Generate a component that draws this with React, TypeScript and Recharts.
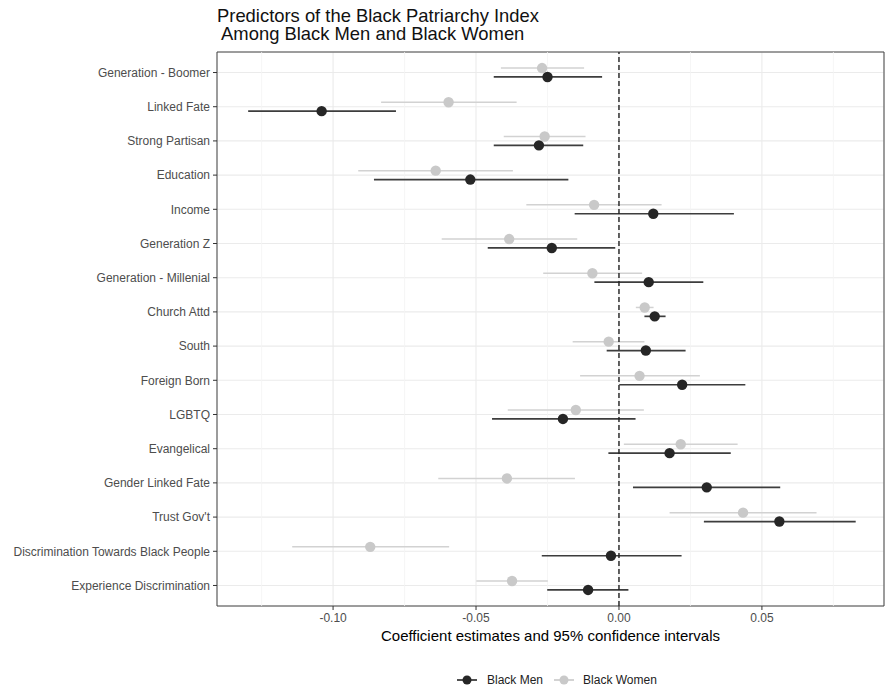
import {
  ScatterChart,
  Scatter,
  XAxis,
  YAxis,
  CartesianGrid,
  ReferenceLine,
  ReferenceArea,
  ErrorBar,
  Label,
} from "recharts";

const categories = [
  "Generation - Boomer",
  "Linked Fate",
  "Strong Partisan",
  "Education",
  "Income",
  "Generation Z",
  "Generation - Millenial",
  "Church Attd",
  "South",
  "Foreign Born",
  "LGBTQ",
  "Evangelical",
  "Gender Linked Fate",
  "Trust Gov't",
  "Discrimination Towards Black People",
  "Experience Discrimination",
];

const menEst = [-0.025, -0.104, -0.028, -0.052, 0.012, -0.0235, 0.0104, 0.0125, 0.0094, 0.0221, -0.0196, 0.0177, 0.0307, 0.0561, -0.0028, -0.0108];
const menLow = [-0.0438, -0.1297, -0.0438, -0.0857, -0.0155, -0.0459, -0.0086, 0.0089, -0.0043, 0.0001, -0.0444, -0.0037, 0.0049, 0.0297, -0.027, -0.0251];
const menHigh = [-0.0059, -0.078, -0.0125, -0.0177, 0.0402, -0.0013, 0.0295, 0.0163, 0.0233, 0.0442, 0.0058, 0.0391, 0.0564, 0.0828, 0.0219, 0.0033];

const womenEst = [-0.0269, -0.0596, -0.026, -0.0641, -0.0087, -0.0384, -0.0093, 0.009, -0.0036, 0.0072, -0.0151, 0.0216, -0.0392, 0.0434, -0.087, -0.0374];
const womenLow = [-0.0413, -0.0832, -0.0403, -0.0912, -0.0324, -0.062, -0.0265, 0.0059, -0.0162, -0.0136, -0.0389, 0.0017, -0.0632, 0.0177, -0.1143, -0.0499];
const womenHigh = [-0.0122, -0.0358, -0.0117, -0.0371, 0.0149, -0.0146, 0.0081, 0.0121, 0.0089, 0.0283, 0.0087, 0.0415, -0.0154, 0.0691, -0.0594, -0.0249];

const xTicks = [-0.1, -0.05, 0, 0.05];
const xMinorTicks = [-0.125, -0.075, -0.025, 0.025, 0.075];
const xDomain = [-0.1406, 0.0927];
const yDomain = [-0.6, categories.length - 0.4];

const MEN = "#262626";
const MEN_LINE = "#3d3d3d";
const WOMEN = "#c9c9c9";
const WOMEN_LINE = "#d2d2d2";

// small vertical dodge between the two groups
const DODGE = 0.13;

const buildRows = (est: number[], low: number[], high: number[], shift: number) =>
  categories.map((name, i) => ({
    name,
    x: est[i],
    y: i + shift,
    err: [est[i] - low[i], high[i] - est[i]],
  }));

const menData = buildRows(menEst, menLow, menHigh, DODGE);
const womenData = buildRows(womenEst, womenLow, womenHigh, -DODGE);

const dot = (fill: string) => (props: any) =>
  <circle cx={props.cx} cy={props.cy} r={5.2} fill={fill} />;

// plain text tick so long labels don't wrap
const CategoryTick = (props: any) => (
  <text
    x={props.x}
    y={props.y}
    dy="0.355em"
    textAnchor="end"
    fontSize={12}
    fill="#4d4d4d"
  >
    {categories[props.payload.value]}
  </text>
);

const LegendIcon = ({ line, fill }: { line: string; fill: string }) => (
  <svg width={20} height={12}>
    <line x1={0} y1={6} x2={20} y2={6} stroke={line} strokeWidth={1.6} />
    <circle cx={10} cy={6} r={4.5} fill={fill} />
  </svg>
);

export default function App() {
  return (
    <div
      style={{
        position: "absolute",
        left: 0,
        top: 0,
        width: 885,
        height: 690,
        background: "#fff",
        fontFamily: "'Liberation Sans', Arial, sans-serif",
      }}
    >
      <div
        style={{
          position: "absolute",
          left: 217,
          top: 7,
          fontSize: 18.4,
          lineHeight: "18px",
          color: "#111",
          whiteSpace: "pre",
        }}
      >
        {"Predictors of the Black Patriarchy Index\n Among Black Men and Black Women"}
      </div>

      <ScatterChart
        width={885}
        height={690}
        margin={{ top: 52, right: 1, bottom: 0, left: 0 }}
      >
        <CartesianGrid stroke="#ebebeb" strokeWidth={1.1} />
        {xMinorTicks.map((v) => (
          <ReferenceLine key={v} x={v} stroke="#f4f4f4" strokeWidth={0.8} />
        ))}
        <XAxis
          type="number"
          dataKey="x"
          domain={xDomain}
          allowDataOverflow
          ticks={xTicks}
          tickFormatter={(v) => Number(v).toFixed(2)}
          height={84}
          tickSize={4}
          tickMargin={3}
          axisLine={false}
          tickLine={{ stroke: "#333" }}
          tick={{ fontSize: 12, fill: "#4d4d4d" }}
        >
          <Label
            value="Coefficient estimates and 95% confidence intervals"
            position="insideTop"
            offset={24}
            style={{ fontSize: 15, fill: "#000" }}
          />
        </XAxis>
        <YAxis
          type="number"
          dataKey="y"
          domain={yDomain}
          allowDataOverflow
          reversed
          width={217}
          ticks={categories.map((_, i) => i)}
          interval={0}
          tickSize={4}
          tickMargin={3}
          axisLine={false}
          tickLine={{ stroke: "#333" }}
          tick={<CategoryTick />}
        />
        <ReferenceArea
          x1={xDomain[0]}
          x2={xDomain[1]}
          y1={yDomain[0]}
          y2={yDomain[1]}
          fill="none"
          stroke="#444"
          strokeWidth={1}
          ifOverflow="visible"
        />
        <Scatter
          name="Black Women"
          data={womenData}
          shape={dot(WOMEN)}
          isAnimationActive={false}
        >
          <ErrorBar
            dataKey="err"
            direction="x"
            width={0}
            stroke={WOMEN_LINE}
            strokeWidth={1.5}
            isAnimationActive={false}
          />
        </Scatter>
        <Scatter
          name="Black Men"
          data={menData}
          shape={dot(MEN)}
          isAnimationActive={false}
        >
          <ErrorBar
            dataKey="err"
            direction="x"
            width={0}
            stroke={MEN_LINE}
            strokeWidth={1.7}
            isAnimationActive={false}
          />
        </Scatter>
        <ReferenceLine x={0} stroke="#222" strokeWidth={1.4} strokeDasharray="5 3" />
      </ScatterChart>

      <div
        style={{
          position: "absolute",
          left: 457,
          top: 673,
          display: "flex",
          alignItems: "center",
          fontSize: 12,
          color: "#222",
        }}
      >
        <LegendIcon line={MEN} fill={MEN} />
        <span style={{ marginLeft: 10, marginRight: 11 }}>Black Men</span>
        <LegendIcon line={WOMEN} fill={WOMEN} />
        <span style={{ marginLeft: 9 }}>Black Women</span>
      </div>
    </div>
  );
}
